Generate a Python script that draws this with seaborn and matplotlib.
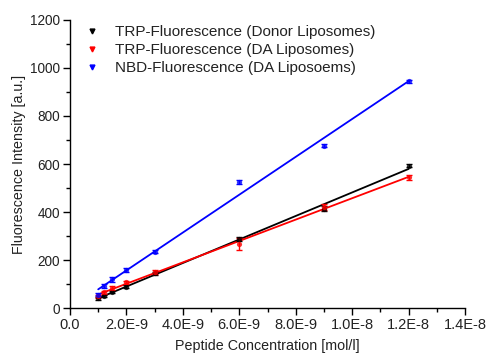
import numpy as np
import pandas as pd
import matplotlib
matplotlib.use("Agg")
import matplotlib.pyplot as plt
import seaborn as sns
from matplotlib.lines import Line2D

conc = [1.0e-9, 1.2e-9, 1.5e-9, 2.0e-9, 3.0e-9, 6.0e-9, 9.0e-9, 1.2e-8]
trp_donor = [42, 52, 68, 90, 146, 288, 414, 592]
trp_donor_err = [5, 5, 5, 6, 6, 8, 10, 6]
trp_da = [50, 68, 86, 108, 150, 268, 422, 545]
trp_da_err = [6, 6, 8, 8, 8, 25, 14, 10]
nbd_da = [58, 92, 122, 160, 236, 527, 676, 943]
nbd_da_err = [6, 8, 10, 10, 6, 8, 6, 5]
labels = ["TRP-Fluorescence (Donor Liposomes)",
          "TRP-Fluorescence (DA Liposomes)",
          "NBD-Fluorescence (DA Liposoems)"]
colors = ["black", "red", "blue"]
xticks = [0, 2e-9, 4e-9, 6e-9, 8e-9, 1.0e-8, 1.2e-8, 1.4e-8]
xticklabels = ["0.0", "2.0E-9", "4.0E-9", "6.0E-9", "8.0E-9", "1.0E-8", "1.2E-8", "1.4E-8"]

sns.set_style("ticks")
plt.rcParams['font.family'] = ['Liberation Sans', 'DejaVu Sans']

fig = plt.figure(figsize=(4.89, 3.55), dpi=100)
ax = fig.add_axes([0.1431, 0.131, 0.808, 0.814])

series = [(trp_donor, trp_donor_err), (trp_da, trp_da_err), (nbd_da, nbd_da_err)]
for (vals, errs), lab, c in zip(series, labels, colors):
    df = pd.DataFrame({"x": conc, "y": vals})
    ax.errorbar(conc, vals, yerr=errs, fmt="none", ecolor=c, elinewidth=1,
                capsize=2.5, capthick=1, zorder=3)
    sns.regplot(data=df, x="x", y="y", ax=ax, ci=None, color=c,
                scatter_kws=dict(marker="v", s=14, linewidths=0, zorder=4),
                line_kws=dict(lw=1.3, zorder=2), truncate=True, label=lab)

ax.set_xlim(0, 1.4e-8)
ax.set_ylim(0, 1200)
ax.set_xticks(xticks)
ax.set_xticklabels(xticklabels)
ax.set_yticks(range(0, 1201, 200))
ax.xaxis.set_minor_locator(matplotlib.ticker.MultipleLocator(1e-9))
ax.yaxis.set_minor_locator(matplotlib.ticker.MultipleLocator(100))
ax.tick_params(axis="both", which="major", direction="out", length=5, width=1,
               color="black", labelcolor="#222222", pad=2)
ax.tick_params(axis="x", which="major", labelsize=10.5)
ax.tick_params(axis="y", which="major", labelsize=9.8)
ax.tick_params(axis="both", which="minor", direction="out", length=3, width=1, color="black")
for s in ["top", "right"]:
    ax.spines[s].set_visible(False)
for s in ["left", "bottom"]:
    ax.spines[s].set_color("black")
    ax.spines[s].set_linewidth(1)
ax.set_xlabel("Peptide Concentration [mol/l]", fontsize=10.3, color="#222222", labelpad=5)
ax.set_ylabel("Fluorescence Intensity [a.u.]", fontsize=10.3, color="#222222", labelpad=3)

handles = [Line2D([], [], marker="v", linestyle="none", color=c, markersize=3.5) for c in colors]
ax.legend(handles, labels, loc="upper left", bbox_to_anchor=(0.011, 1.002), frameon=False,
          fontsize=11, handletextpad=0.75, labelspacing=0.26, borderaxespad=0.0,
          borderpad=0.4, handlelength=1.5, labelcolor="#222222")

fig.savefig("out.png", dpi=100)
